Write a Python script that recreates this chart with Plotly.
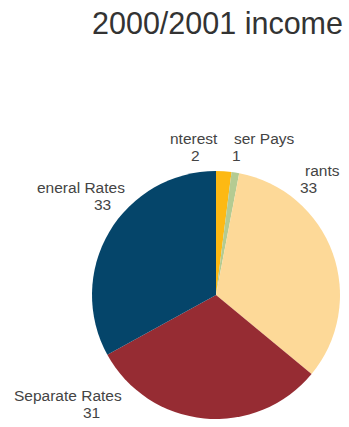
import plotly.graph_objects as go

# Income sources and amounts
categories = ["nterest", "ser Pays", "rants", "Separate Rates", "eneral Rates"]
values = [2, 1, 33, 31, 33]
colors = ["#FDB913", "#B4CB92", "#FDD998", "#962C33", "#05456A"]

W, H = 349, 427

fig = go.Figure(go.Pie(
    labels=categories,
    values=values,
    sort=False,
    direction="clockwise",
    rotation=0,
    textinfo="none",
    hoverinfo="label+value",
    marker=dict(colors=colors, line=dict(width=0)),
    domain=dict(x=[92 / W, 340 / W], y=[1 - 419 / H, 1 - 171 / H]),
    showlegend=False,
))

# Outside label placement (pixels): name line left edge, value line left edge, top of name line
label_pos = {
    "nterest": (169, 190, 129),
    "ser Pays": (233, 231, 129),
    "rants": (304, 299, 161),
    "eneral Rates": (36, 93, 178),
    "Separate Rates": (13, 82, 386),
}
line_gap = 17
lab_font = dict(family="Liberation Sans, Arial, sans-serif", size=15.5, color="#444444")

annotations = []
for name, val in zip(categories, values):
    xn, xv, yt = label_pos[name]
    for text, x, y in ((name, xn, yt), (str(val), xv, yt + line_gap)):
        annotations.append(dict(
            text=text, x=x / W, y=1 - y / H, xref="paper", yref="paper",
            xanchor="left", yanchor="top", showarrow=False, font=lab_font,
            borderpad=0,
        ))

annotations.append(dict(
    text="2000/2001 income", x=344 / W, y=1 - 5 / H, xref="paper", yref="paper",
    xanchor="right", yanchor="top", showarrow=False, borderpad=0,
    font=dict(family="Liberation Sans, Arial, sans-serif", size=30.5, color="#333333"),
))

fig.update_layout(
    width=W, height=H,
    margin=dict(l=0, r=0, t=0, b=0),
    paper_bgcolor="white", plot_bgcolor="white",
    annotations=annotations,
)

fig.write_html("out.html")
